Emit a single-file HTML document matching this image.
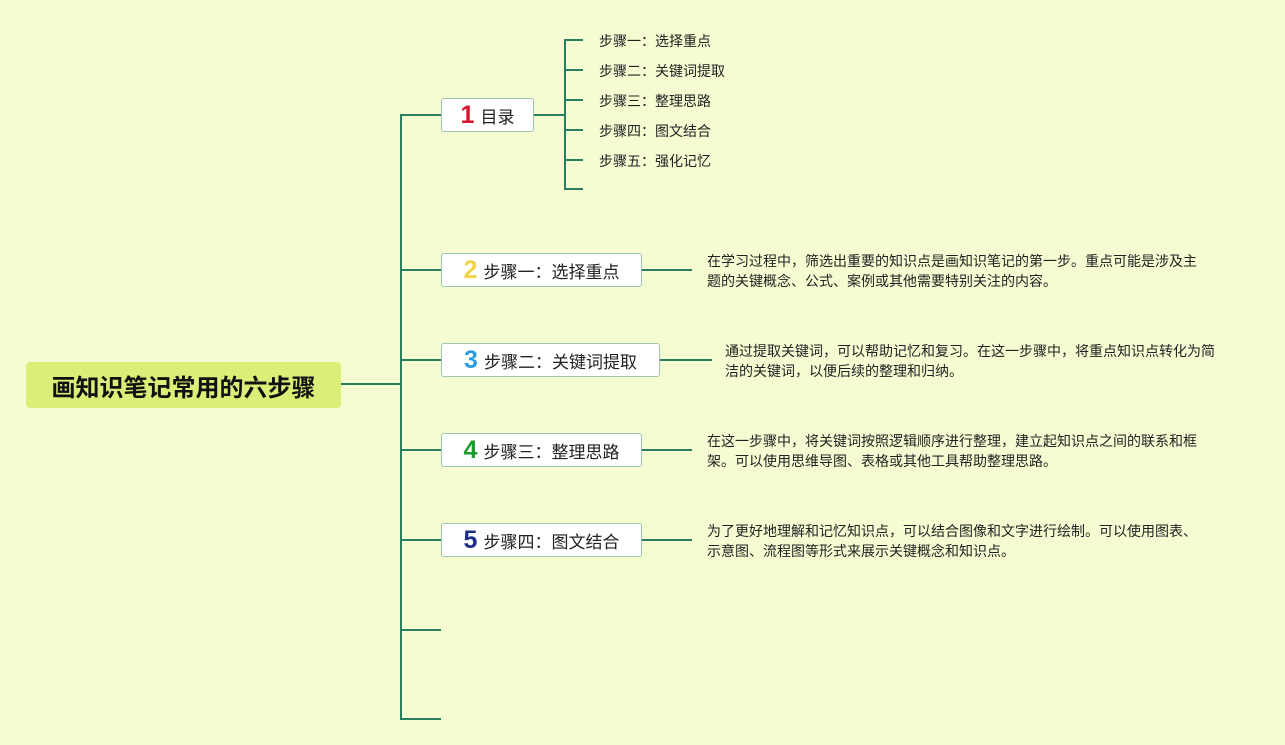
<!DOCTYPE html>
<html><head><meta charset="utf-8"><style>
body{margin:0;width:1285px;height:745px;background:#f5fcd2;position:relative;overflow:hidden;font-family:"Liberation Sans","Noto Sans CJK SC",sans-serif;color:#222}
.l{position:absolute;background:#2a7f62}
.b{position:absolute;height:34px;border:1px solid #9cc5b2;border-radius:3px;background:#fff;box-sizing:border-box;display:flex;align-items:center;justify-content:center;font-size:17px;white-space:nowrap}
.n{font-weight:bold;font-size:25px;margin-right:6px;font-family:"Liberation Sans",sans-serif}
.s{position:absolute;font-size:14px;white-space:nowrap;line-height:14px}
.t{position:absolute;font-size:14px;letter-spacing:0;line-height:20px;white-space:nowrap}
</style></head><body>
<div style="position:absolute;left:26px;top:362px;width:315px;height:46px;background:#dbef78;border-radius:4px;font-size:24px;font-weight:bold;display:flex;align-items:center;justify-content:center;color:#111">画知识笔记常用的六步骤</div>
<div class="l" style="left:341px;top:383px;width:60px;height:2px"></div>
<div class="l" style="left:400px;top:114px;width:2px;height:606px"></div>
<div class="l" style="left:400px;top:114px;width:41px;height:2px"></div>
<div class="l" style="left:400px;top:269px;width:41px;height:2px"></div>
<div class="l" style="left:400px;top:359px;width:41px;height:2px"></div>
<div class="l" style="left:400px;top:449px;width:41px;height:2px"></div>
<div class="l" style="left:400px;top:539px;width:41px;height:2px"></div>
<div class="l" style="left:400px;top:629px;width:41px;height:2px"></div>
<div class="l" style="left:400px;top:718px;width:41px;height:2px"></div>

<div class="b" style="left:441px;top:98px;width:93px"><span class="n" style="color:#d9162b">1</span>目录</div>
<div class="l" style="left:534px;top:114px;width:31px;height:2px"></div>
<div class="l" style="left:564px;top:39px;width:2px;height:151px"></div>
<div class="l" style="left:564px;top:39px;width:19px;height:2px"></div>
<div class="l" style="left:564px;top:69px;width:19px;height:2px"></div>
<div class="l" style="left:564px;top:99px;width:19px;height:2px"></div>
<div class="l" style="left:564px;top:129px;width:19px;height:2px"></div>
<div class="l" style="left:564px;top:159px;width:19px;height:2px"></div>
<div class="l" style="left:564px;top:188px;width:19px;height:2px"></div>
<div class="s" style="left:599px;top:34px">步骤一：选择重点</div>
<div class="s" style="left:599px;top:64px">步骤二：关键词提取</div>
<div class="s" style="left:599px;top:94px">步骤三：整理思路</div>
<div class="s" style="left:599px;top:124px">步骤四：图文结合</div>
<div class="s" style="left:599px;top:154px">步骤五：强化记忆</div>

<div class="b" style="left:441px;top:253px;width:201px"><span class="n" style="color:#f3d24c">2</span>步骤一：选择重点</div>
<div class="l" style="left:642px;top:269px;width:50px;height:2px"></div>
<div class="t" style="left:707px;top:251px">在学习过程中，筛选出重要的知识点是画知识笔记的第一步。重点可能是涉及主<br>题的关键概念、公式、案例或其他需要特别关注的内容。</div>

<div class="b" style="left:441px;top:343px;width:219px"><span class="n" style="color:#2a9ee0">3</span>步骤二：关键词提取</div>
<div class="l" style="left:660px;top:359px;width:52px;height:2px"></div>
<div class="t" style="left:725px;top:341px">通过提取关键词，可以帮助记忆和复习。在这一步骤中，将重点知识点转化为简<br>洁的关键词，以便后续的整理和归纳。</div>

<div class="b" style="left:441px;top:433px;width:201px"><span class="n" style="color:#1f9a2e">4</span>步骤三：整理思路</div>
<div class="l" style="left:642px;top:449px;width:50px;height:2px"></div>
<div class="t" style="left:707px;top:431px">在这一步骤中，将关键词按照逻辑顺序进行整理，建立起知识点之间的联系和框<br>架。可以使用思维导图、表格或其他工具帮助整理思路。</div>

<div class="b" style="left:441px;top:523px;width:201px"><span class="n" style="color:#1d2f86">5</span>步骤四：图文结合</div>
<div class="l" style="left:642px;top:539px;width:50px;height:2px"></div>
<div class="t" style="left:707px;top:521px">为了更好地理解和记忆知识点，可以结合图像和文字进行绘制。可以使用图表、<br>示意图、流程图等形式来展示关键概念和知识点。</div>
</body></html>
